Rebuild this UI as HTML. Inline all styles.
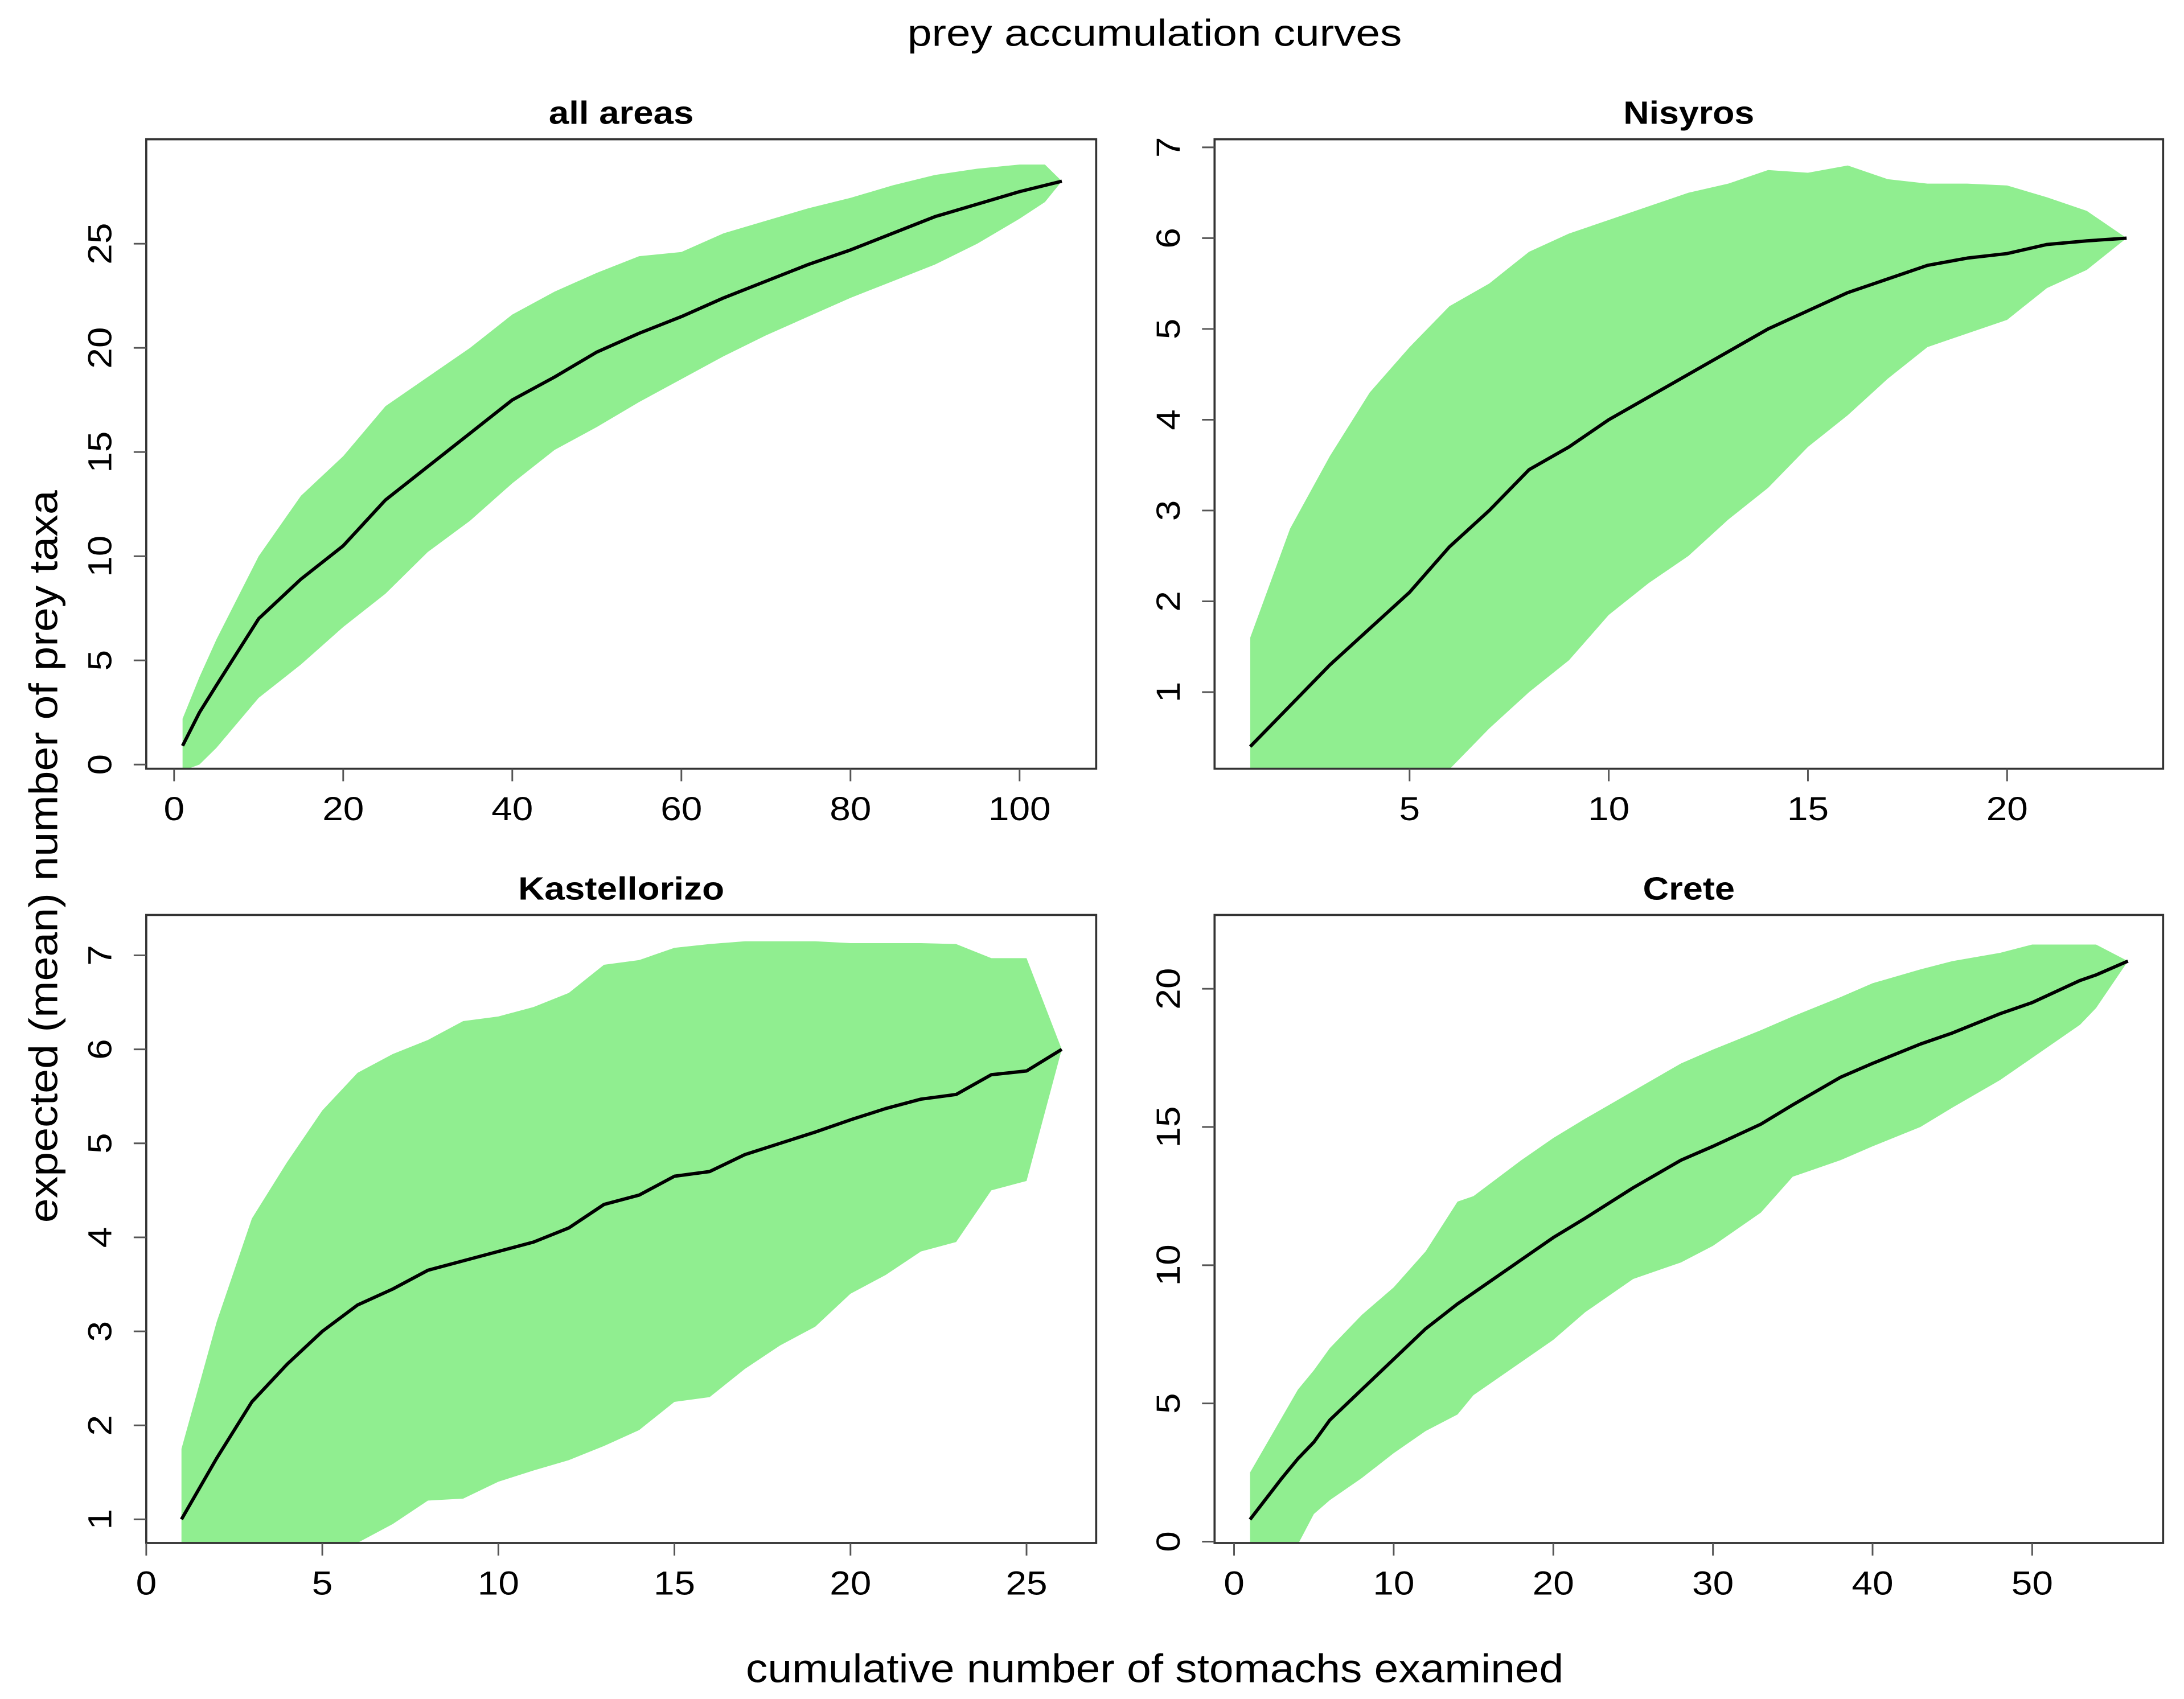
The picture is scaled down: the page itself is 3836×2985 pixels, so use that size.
<!DOCTYPE html>
<html><head><meta charset="utf-8"><style>
html,body{margin:0;padding:0;background:#fff;}
svg{display:block;}
text{font-family:"Liberation Sans",sans-serif;fill:#000;}
</style></head>
<body>
<svg id="chart" width="3836" height="2985" viewBox="0 0 1568 1220" preserveAspectRatio="none" xmlns="http://www.w3.org/2000/svg">
<text x="829" y="33" font-size="27" text-anchor="middle" textLength="355" lengthAdjust="spacingAndGlyphs">prey accumulation curves</text>
<text transform="translate(41,615) rotate(-90)" font-size="29" text-anchor="middle" textLength="526" lengthAdjust="spacingAndGlyphs">expected (mean) number of prey taxa</text>
<text x="829" y="1208" font-size="29" text-anchor="middle" textLength="587" lengthAdjust="spacingAndGlyphs">cumulative number of stomachs examined</text>
</svg>
<script>
// Panel 1: all areas
const allX = [1,3,5,10,15,20,25,30,35,40,45,50,55,60,65,70,75,80,85,90,95,100,103,105];
const allMean = [0.9,2.5,3.8,7.0,8.9,10.5,12.7,14.3,15.9,17.5,18.6,19.8,20.7,21.5,22.4,23.2,24.0,24.7,25.5,26.3,26.9,27.5,27.8,28.0];
const allUpper = [2.2,4.2,6.0,10.0,12.9,14.8,17.2,18.6,20.0,21.6,22.7,23.6,24.4,24.6,25.5,26.1,26.7,27.2,27.8,28.3,28.6,28.8,28.8,28.0];
const allLower = [-0.3,0.0,0.8,3.2,4.8,6.6,8.2,10.2,11.7,13.5,15.1,16.2,17.4,18.5,19.6,20.6,21.5,22.4,23.2,24.0,25.0,26.2,27.0,28.0];
const allXTicks = [0,20,40,60,80,100];
const allYTicks = [0,5,10,15,20,25];
// Panel 2: Nisyros
const nisX = [1,2,3,4,5,6,7,8,9,10,11,12,13,14,15,16,17,18,19,20,21,22,23];
const nisMean = [0.4,0.85,1.3,1.7,2.1,2.6,3.0,3.45,3.7,4.0,4.25,4.5,4.75,5.0,5.2,5.4,5.55,5.7,5.78,5.83,5.93,5.97,6.0];
const nisUpper = [1.6,2.8,3.6,4.3,4.8,5.25,5.5,5.85,6.05,6.2,6.35,6.5,6.6,6.75,6.72,6.8,6.65,6.6,6.6,6.58,6.45,6.3,6.0];
const nisLower = [-1.5,-1.2,-0.9,-0.6,-0.3,0.15,0.6,1.0,1.35,1.85,2.2,2.5,2.9,3.25,3.7,4.05,4.45,4.8,4.95,5.1,5.45,5.65,6.0];
const nisXTicks = [5,10,15,20];
const nisYTicks = [1,2,3,4,5,6,7];
// Panel 3: Kastellorizo
const kasX = [1,2,3,4,5,6,7,8,9,10,11,12,13,14,15,16,17,18,19,20,21,22,23,24,25,26];
const kasMean = [1.0,1.65,2.25,2.65,3.0,3.28,3.45,3.65,3.75,3.85,3.95,4.1,4.35,4.45,4.65,4.7,4.88,5.0,5.12,5.25,5.37,5.47,5.52,5.73,5.77,6.0];
const kasUpper = [1.75,3.1,4.2,4.8,5.35,5.75,5.95,6.1,6.3,6.35,6.45,6.6,6.9,6.95,7.08,7.12,7.15,7.15,7.15,7.13,7.13,7.13,7.12,6.97,6.97,6.0];
const kasLower = [-0.5,-0.2,0.1,0.3,0.5,0.75,0.95,1.2,1.22,1.4,1.52,1.63,1.78,1.95,2.25,2.3,2.6,2.85,3.05,3.4,3.6,3.85,3.95,4.5,4.6,6.0];
const kasXTicks = [0,5,10,15,20,25];
const kasYTicks = [1,2,3,4,5,6,7];
// Panel 4: Crete
const creX = [1,3,4,5,6,8,10,12,14,15,18,20,22,25,28,30,33,35,38,40,43,45,48,50,53,54,56];
const creMean = [0.8,2.3,3.0,3.6,4.4,5.5,6.6,7.7,8.6,9.0,10.2,11.0,11.7,12.8,13.8,14.3,15.1,15.8,16.8,17.3,18.0,18.4,19.1,19.5,20.3,20.5,21.0];
const creUpper = [2.5,4.5,5.5,6.2,7.0,8.2,9.2,10.5,12.3,12.5,13.8,14.6,15.3,16.3,17.3,17.8,18.5,19.0,19.7,20.2,20.7,21.0,21.3,21.6,21.6,21.6,21.0];
const creLower = [-1.0,-0.5,-0.1,1.0,1.5,2.3,3.2,4.0,4.6,5.3,6.5,7.3,8.3,9.5,10.1,10.7,11.9,13.2,13.8,14.3,15.0,15.7,16.7,17.5,18.7,19.3,21.0];
const creXTicks = [0,10,20,30,40,50];
const creYTicks = [0,5,10,15,20];

const NS = "http://www.w3.org/2000/svg";
const svg = document.getElementById('chart');
function mk(tag, attrs, parent){
  const e = document.createElementNS(NS, tag);
  for (const k in attrs) e.setAttribute(k, attrs[k]);
  (parent||svg).appendChild(e);
  return e;
}
function linScale(d0,d1,r0,r1){ return v => r0 + (v-d0)*(r1-r0)/(d1-d0); }

function panel(id, title, titleLen, box, sx, sy, xs, mean, up, lo, xt, yt){
  const g = mk('g', {});
  
  
  const cp = mk('clipPath', {id: id+'-clip'}, g);
  mk('rect', {x: box.x, y: box.y, width: box.w, height: box.h}, cp);
  let d = '';
  xs.forEach((x,i)=>{ d += (i?'L':'M') + sx(x).toFixed(2) + ',' + sy(up[i]).toFixed(2); });
  for (let i = xs.length-1; i >= 0; i--) d += 'L' + sx(xs[i]).toFixed(2) + ',' + sy(lo[i]).toFixed(2);
  d += 'Z';
  const band = mk('path', {d: d, fill: '#90ee90', stroke: 'none', 'clip-path': 'url(#'+id+'-clip)'}, g);
  
  
  let m = '';
  xs.forEach((x,i)=>{ m += (i?'L':'M') + sx(x).toFixed(2) + ',' + sy(mean[i]).toFixed(2); });
  const line = mk('path', {d: m, fill: 'none', stroke: '#000', 'stroke-width': 2.4, 'stroke-linejoin': 'round', 'clip-path': 'url(#'+id+'-clip)'}, g);
  
  
  const frame = mk('rect', {x: box.x, y: box.y, width: box.w, height: box.h, fill: 'none', stroke: '#333', 'stroke-width': 1.5}, g);
  
  
  const t = mk('text', {x: box.x + box.w/2, y: box.y - 11, 'font-size': 23, 'font-weight': 'bold', 'text-anchor': 'middle', textLength: titleLen, lengthAdjust: 'spacingAndGlyphs'}, g);
  t.textContent = title;
  
  
  const by = box.y + box.h;
  xt.forEach(v=>{
    const x = sx(v);
    const tk = mk('line', {x1: x, x2: x, y1: by, y2: by + 9, stroke: '#555', 'stroke-width': 1.2}, g);
    
    
    const lb = mk('text', {x: x, y: by + 37, 'font-size': 24, 'text-anchor': 'middle', transform: 'translate(' + x + ',0) scale(1.12,1) translate(' + (-x) + ',0)'}, g);
    lb.textContent = v;
    
    
  });
  yt.forEach(v=>{
    const y = sy(v);
    const tk = mk('line', {x1: box.x - 9, x2: box.x, y1: y, y2: y, stroke: '#555', 'stroke-width': 1.2}, g);
    
    
    const lb = mk('text', {transform: 'translate(' + (box.x - 25) + ',' + y + ') rotate(-90) scale(1.12,1)', 'font-size': 24, 'text-anchor': 'middle'}, g);
    lb.textContent = v;
    
    
  });
}

panel('all-areas', 'all areas', 104, {x:105,y:100,w:682,h:452},
  linScale(0,100,125,732), linScale(0,25,549,175),
  allX, allMean, allUpper, allLower, allXTicks, allYTicks);
panel('nisyros', 'Nisyros', 94, {x:872,y:100,w:681,h:452},
  linScale(5,20,1012,1441), linScale(1,6,497,171),
  nisX, nisMean, nisUpper, nisLower, nisXTicks, nisYTicks);
panel('kastellorizo', 'Kastellorizo', 148, {x:105,y:657,w:682,h:451},
  linScale(0,25,105,737), linScale(1,7,1091,686),
  kasX, kasMean, kasUpper, kasLower, kasXTicks, kasYTicks);
panel('crete', 'Crete', 66, {x:872,y:657,w:681,h:451},
  linScale(0,50,886,1459), linScale(0,20,1107,710),
  creX, creMean, creUpper, creLower, creXTicks, creYTicks);
</script>
</body></html>
